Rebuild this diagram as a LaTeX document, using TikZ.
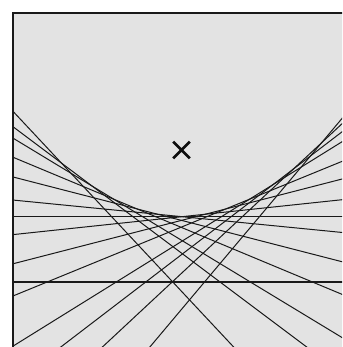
\documentclass[tikz,border=0pt]{standalone}
\usepackage{tikz}
\usetikzlibrary{calc,shapes.misc}

\begin{document}
\begin{tikzpicture}[
  x=1pt, y=-1pt,
  paper/.style={fill=black!11},
  edge/.style={draw,line width=1.8pt,black!90},
  fold/.style={line width=1pt,black!90},
  directrix/.style={line width=1.8pt,black!90},
  focusmark/.style={draw,cross out,minimum size=14pt,inner sep=0pt,
                    line width=2.7pt,black!95}
]
\useasboundingbox (0,0) rectangle (342,347);
\clip (0,0) rectangle (342,347);
\fill[paper] (12.7,12.7) rectangle (360,365);
\node[focusmark] (focus) at (181.5,150) {};
% folds: each one takes the focus onto a point of the directrix
\begin{scope}
\clip (12.7,12.7) rectangle (360,365);
\foreach \u in {-141,-99,-80,-55,-34,-13,0,14,34,54,82,101,123,157}{
  \coordinate (d) at (181.5+\u,282);
  \coordinate (m) at ($(focus.center)!0.5!(d)$);
  \draw[fold] ($(m)!5!90:(d)$) -- ($(m)!5!-90:(d)$);
}
\end{scope}
% directrix
\coordinate (dl) at (12.7,282);
\coordinate (dr) at (360,282);
\draw[directrix] (dl) -- (dr);
\draw[edge] (12.7,12.7) rectangle (360,365);
\end{tikzpicture}
\end{document}
